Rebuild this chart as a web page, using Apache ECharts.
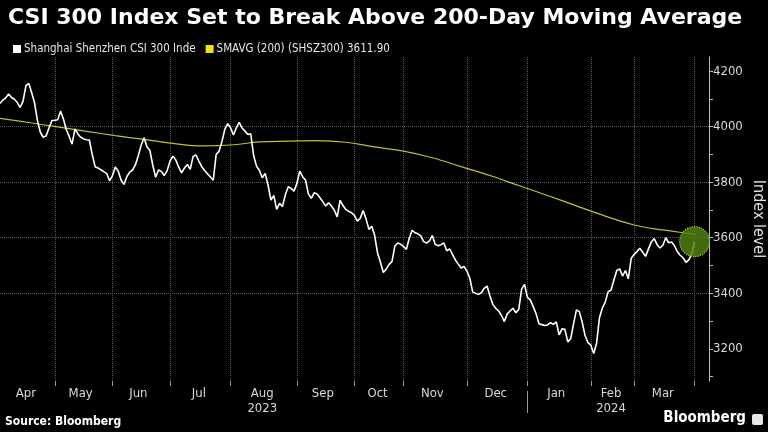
<!DOCTYPE html>
<html><head><meta charset="utf-8">
<script src="https://cdn.jsdelivr.net/npm/echarts@6/dist/echarts.min.js"></script>
<style>html,body{margin:0;padding:0;background:#000;}#c{width:768px;height:432px;}</style>
</head><body><div id="c"></div>
<script>
// ---- data ----
const startDate = '2023-04-03';
const holidays = ['2023-04-05','2023-05-01','2023-05-02','2023-05-03','2023-06-22','2023-06-23','2023-09-29',
  '2023-10-02','2023-10-03','2023-10-04','2023-10-05','2023-10-06','2024-01-01','2024-02-09','2024-02-12',
  '2024-02-13','2024-02-14','2024-02-15','2024-02-16','2024-04-04','2024-04-05'];
const csi300 = [
4084,4096,4104,4118,4105,4099,4087,4069,4092,4148,
4156,4122,4085,4022,3980,3962,3967,3995,4022,4023,
4025,4056,4028,3990,3965,3937,3992,3974,3962,3956,
3953,3952,3900,3856,3851,3845,3838,3832,3805,3823,
3855,3840,3808,3792,3820,3836,3844,3863,3896,3934,
3960,3927,3915,3862,3818,3844,3839,3824,3842,3876,
3894,3880,3854,3834,3851,3864,3846,3893,3898,3876,
3856,3842,3830,3819,3807,3900,3912,3946,3990,4011,
3996,3970,3996,4016,3995,3984,3972,3974,3896,3858,
3842,3816,3832,3790,3736,3752,3702,3724,3712,3755,
3784,3778,3768,3795,3840,3820,3808,3758,3742,3762,
3758,3744,3730,3714,3726,3714,3699,3675,3735,3716,
3702,3695,3690,3680,3660,3670,3698,3668,3630,3641,
3608,3545,3512,3475,3487,3504,3514,3570,3581,3577,
3568,3558,3598,3627,3618,3614,3607,3586,3581,3589,
3608,3576,3571,3575,3581,3553,3560,3540,3520,3505,
3491,3497,3480,3455,3405,3400,3396,3402,3418,3426,
3390,3360,3346,3336,3320,3298,3326,3336,3346,3330,
3342,3416,3432,3385,3376,3352,3326,3290,3287,3284,
3286,3294,3288,3297,3250,3272,3270,3225,3236,3290,
3340,3334,3296,3248,3222,3213,3183,3220,3312,3347,
3368,3406,3411,3448,3482,3488,3462,3482,3452,3525,
3540,3550,3562,3548,3533,3560,3585,3597,3575,3563,
3573,3600,3582,3585,3572,3550,3537,3528,3511,3520,
3542,3586];
const smaDayIndex = [0,10,20,30,40,50,60,70,80,90,100,110,120,130,140,150,160,170,180,190,200,210,220,230,240,241];
const smaValues = [4030,4015,3999,3983,3968,3954,3940,3931,3934,3945,3948,3950,3944,3927,3912,3888,3856,3824,3788,3752,3715,3678,3646,3628,3614,3612];
const yTicks = [3200,3400,3600,3800,4000,4200];
const monthNames = ['Jan','Feb','Mar','Apr','May','Jun','Jul','Aug','Sep','Oct','Nov','Dec'];
const yearLabels = [['2023-08','2023'],['2024-02','2024']];
const seriesNames = ['Shanghai Shenzhen CSI 300 Inde','SMAVG (200) (SHSZ300) 3611.90'];
const extraDays = 5;

// ---- trading calendar ----
const dates = [];
(function(){
  const d = new Date(startDate + 'T00:00:00Z');
  while (dates.length < csi300.length + extraDays) {
    const s = d.toISOString().slice(0,10);
    const wd = d.getUTCDay();
    if (wd !== 0 && wd !== 6 && holidays.indexOf(s) < 0) dates.push(s);
    d.setUTCDate(d.getUTCDate() + 1);
  }
})();
const lastIdx = csi300.length - 1;
const monthStart = {};
const monthRanges = [];
dates.forEach((s, i) => {
  const m = s.slice(0,7);
  if (!monthRanges.length || monthRanges[monthRanges.length-1].m !== m) {
    monthRanges.push({m: m, s: i, e: i});
    if (i > 0) monthStart[i] = true;
  } else monthRanges[monthRanges.length-1].e = i;
});
const labelMap = {};
monthRanges.forEach(r => {
  if (r.s >= lastIdx) return;
  const mid = Math.floor((r.s + r.e) / 2);
  let txt = monthNames[parseInt(r.m.slice(5,7),10) - 1];
  yearLabels.forEach(y => { if (y[0] === r.m) txt += '\n' + y[1]; });
  labelMap[mid] = txt;
});
let yearSepIdx = -1;
monthRanges.forEach(r => { if (r.m.slice(5,7) === '01' && r.s > 0) yearSepIdx = r.s; });

const smaData = smaDayIndex.map((d, k) => [dates[d], smaValues[k]]);

const axisFont = 'DejaVu Sans Condensed, DejaVu Sans, sans-serif';
const chart = echarts.init(document.getElementById('c'), null, {renderer: 'canvas'});
chart.setOption({
  backgroundColor: '#000',
  animation: false,
  title: {
    text: 'CSI 300 Index Set to Break Above 200-Day Moving Average',
    left: 3, top: 2,
    textStyle: {color: '#fff', fontFamily: 'DejaVu Sans', fontWeight: 'bold', fontSize: 22}
  },
  legend: {
    left: 8, top: 38, itemWidth: 8, itemHeight: 8, itemGap: 10, icon: 'rect',
    textStyle: {color: '#e6e6e6', fontFamily: axisFont, fontSize: 11.5, padding: [0,0,0,-2]},
    data: [
      {name: seriesNames[0], itemStyle: {color: '#ffffff'}},
      {name: seriesNames[1], itemStyle: {color: '#f2e20a'}}
    ]
  },
  grid: {left: 0, right: 59, top: 57, bottom: 51, containLabel: false, outerBoundsMode: 'none'},
  xAxis: [{
    type: 'category', data: dates, boundaryGap: false,
    axisLine: {show: false},
    axisTick: {show: true, length: 5, interval: (i) => !!monthStart[i], lineStyle: {color: '#9a9a9a'}},
    axisLabel: {
      interval: (i) => labelMap[i] !== undefined,
      formatter: (v, i) => labelMap[i] || '',
      color: '#d8d8d8', fontFamily: axisFont, fontSize: 13, margin: 5, lineHeight: 15
    },
    splitLine: {show: true, interval: (i) => !!monthStart[i], lineStyle: {color: '#5a5a5a', type: 'dotted', width: 1}}
  }, {
    type: 'category', data: dates, boundaryGap: false, position: 'bottom', offset: 10,
    axisLine: {show: false},
    axisTick: {show: true, length: 22, interval: (i) => i === yearSepIdx, lineStyle: {color: '#9a9a9a'}},
    axisLabel: {show: false}, splitLine: {show: false}
  }],
  yAxis: {
    type: 'value', position: 'right', min: 3084, max: 4251, splitNumber: 5,
    name: 'Index level', nameLocation: 'middle', nameRotate: -90, nameGap: 41, nameMoveOverlap: false,
    nameTextStyle: {color: '#e0e0e0', fontFamily: axisFont, fontSize: 16},
    axisLine: {show: true, lineStyle: {color: '#bdbdbd', width: 1}},
    axisTick: {show: true, length: 4, customValues: yTicks, lineStyle: {color: '#bdbdbd'}},
    minorTick: {show: true, splitNumber: 2, length: 4, lineStyle: {color: '#bdbdbd'}},
    axisLabel: {customValues: yTicks, formatter: (v) => String(v), color: '#d8d8d8', fontFamily: axisFont, fontSize: 13, margin: 4},
    splitLine: {show: true, showMinLine: false, showMaxLine: false, lineStyle: {color: '#5a5a5a', type: 'dotted', width: 1}}
  },
  series: [{
    name: seriesNames[1], type: 'line', xAxisIndex: 0, data: smaData, smooth: 0.4, showSymbol: false,
    lineStyle: {color: '#c4bd36', width: 1.2}, itemStyle: {color: '#f2e20a'}, z: 2
  }, {
    name: seriesNames[0], type: 'line', xAxisIndex: 0, data: csi300, showSymbol: false,
    lineStyle: {color: '#ffffff', width: 1.6}, itemStyle: {color: '#ffffff'}, z: 3,
    markPoint: {
      symbol: 'circle', symbolSize: 30, label: {show: false}, silent: true,
      itemStyle: {color: 'rgba(82,130,14,0.82)', borderColor: '#9bd443', borderWidth: 1.2, borderType: 'dotted'},
      data: [{coord: [dates[lastIdx], csi300[lastIdx]]}]
    }
  }],
  graphic: [
    {type: 'text', left: 5, top: 416, style: {text: 'Source: Bloomberg', fill: '#fff', font: 'bold 12px "DejaVu Sans Condensed", "DejaVu Sans"'}},
    {type: 'text', right: 22, top: 411, style: {text: 'Bloomberg', fill: '#fff', font: 'bold 15px "DejaVu Sans Condensed", "DejaVu Sans"'}},
    {type: 'rect', right: 5, top: 414, shape: {width: 11, height: 11, r: 2}, style: {fill: '#e8e8e8'}}
  ]
});
</script></body></html>
